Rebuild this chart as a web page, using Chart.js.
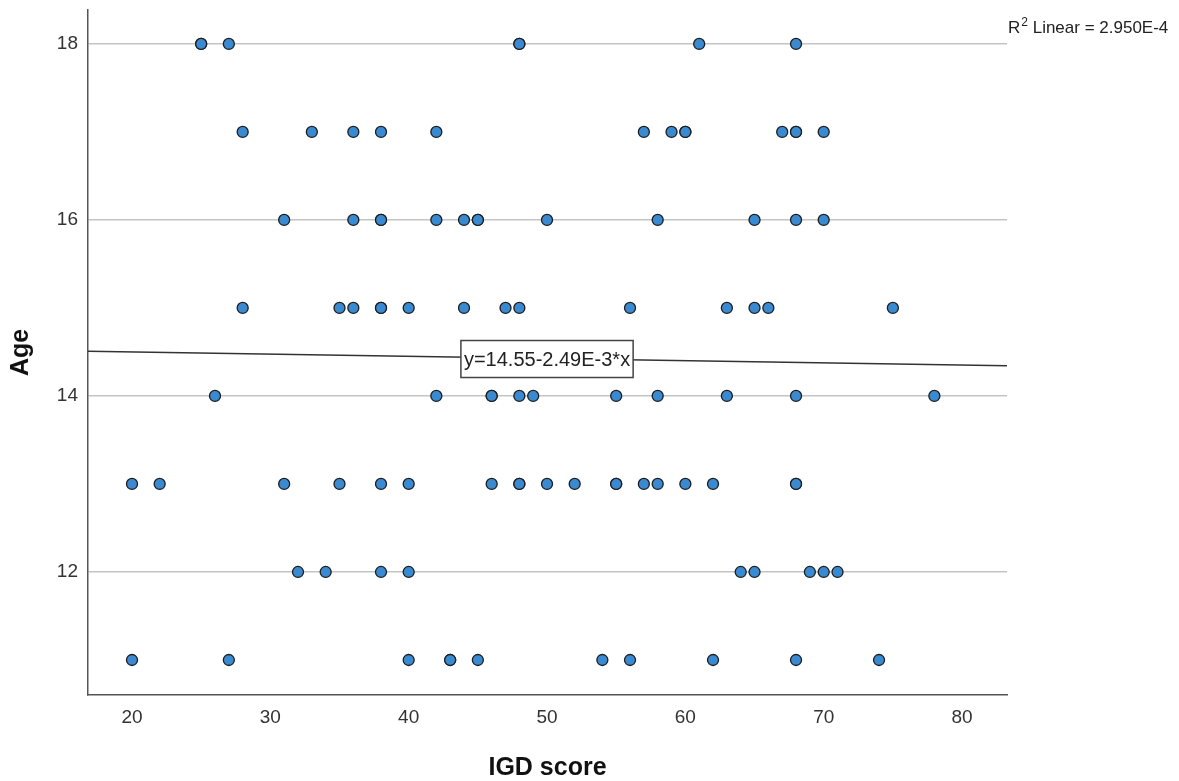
<!DOCTYPE html>
<html>
<head>
<meta charset="utf-8">
<script src="https://cdn.jsdelivr.net/npm/chart.js@4.4.1/dist/chart.umd.min.js"></script>
<style>
  html, body { margin: 0; padding: 0; background: #fff; }
  #wrap { width: 1179px; height: 781px; }
</style>
</head>
<body>
<div id="wrap"><canvas id="scatter" width="1179" height="781"></canvas></div>
<script>
// IGD score (x) vs Age (y) scatter with a linear fit, SPSS-style.
// One array of IGD scores per age; repeated values are repeated cases.
const AGE_LEVELS = [18, 17, 16, 15, 14, 13, 12, 11];
const igdAge18 = [25, 25, 27, 48, 48, 61, 68];
const igdAge17 = [28, 33, 36, 38, 42, 57, 59, 60, 60, 67, 68, 68, 70];
const igdAge16 = [31, 36, 38, 38, 42, 44, 45, 45, 50, 58, 65, 68, 70];
const igdAge15 = [28, 35, 36, 38, 38, 40, 44, 47, 48, 56, 63, 65, 66, 75];
const igdAge14 = [26, 42, 46, 46, 48, 49, 55, 58, 63, 68, 78];
const igdAge13 = [20, 22, 31, 35, 38, 40, 46, 48, 48, 50, 52, 55, 55, 57, 58, 60, 62, 68, 68];
const igdAge12 = [32, 34, 38, 40, 64, 65, 69, 70, 71];
const igdAge11 = [20, 27, 40, 43, 43, 45, 54, 56, 62, 68, 74];

// fit line end points (at the axis limits) and its label
const fitX = [16.82, 83.25];
const fitY = [14.508, 14.343];
const fitLabel = "y=14.55-2.49E-3*x";
const fitLabelAt = { x: 50, y: 14.42 };
const r2Text = { pre: "R", sup: "2", post: " Linear = 2.950E-4" };

const X_TICKS = [20, 30, 40, 50, 60, 70, 80];
const Y_TICKS = [12, 14, 16, 18];

const SANS = '"Liberation Sans", Arial, sans-serif';

const rows = [igdAge18, igdAge17, igdAge16, igdAge15, igdAge14, igdAge13, igdAge12, igdAge11];
const points = [];
rows.forEach((xs, i) => xs.forEach((x) => points.push({ x, y: AGE_LEVELS[i] })));

// white box with the fit equation, plus the R² note in the top right
const notes = {
  id: "notes",
  afterDatasetsDraw(chart) {
    const { ctx, scales } = chart;
    const cx = scales.x.getPixelForValue(fitLabelAt.x);
    const cy = scales.y.getPixelForValue(fitLabelAt.y);
    ctx.save();
    ctx.font = `20px ${SANS}`;
    const w = ctx.measureText(fitLabel).width + 6;
    const h = 37;
    ctx.fillStyle = "#fff";
    ctx.fillRect(cx - w / 2, cy - h / 2, w, h);
    ctx.strokeStyle = "#444";
    ctx.lineWidth = 1.5;
    ctx.strokeRect(cx - w / 2, cy - h / 2, w, h);
    ctx.fillStyle = "#222";
    ctx.textAlign = "center";
    ctx.textBaseline = "middle";
    ctx.fillText(fitLabel, cx, cy + 1);

    let x = chart.chartArea.right + 1;
    const base = 33;
    ctx.textAlign = "left";
    ctx.textBaseline = "alphabetic";
    ctx.font = `17px ${SANS}`;
    ctx.fillText(r2Text.pre, x, base);
    x += ctx.measureText(r2Text.pre).width;
    ctx.font = `12px ${SANS}`;
    ctx.fillText(r2Text.sup, x + 1, base - 7);
    x += ctx.measureText(r2Text.sup).width + 1;
    ctx.font = `17px ${SANS}`;
    ctx.fillText(r2Text.post, x, base);
    ctx.restore();
  },
};

new Chart(document.getElementById("scatter"), {
  type: "scatter",
  data: {
    datasets: [
      {
        type: "line",
        label: "Linear fit",
        data: fitX.map((x, i) => ({ x, y: fitY[i] })),
        borderColor: "#333",
        borderWidth: 1.5,
        pointRadius: 0,
        fill: false,
        order: 2,
      },
      {
        label: "Age",
        data: points,
        backgroundColor: "#3a8ad2",
        borderColor: "#1e1e1e",
        borderWidth: 1.3,
        pointRadius: 5.5,
        order: 1,
      },
    ],
  },
  options: {
    responsive: false,
    animation: false,
    layout: { padding: { top: 10, right: 172, left: 0, bottom: 0 } },
    plugins: { legend: { display: false }, tooltip: { enabled: false } },
    scales: {
      x: {
        type: "linear",
        min: 16.82,
        max: 83.25,
        afterBuildTicks: (s) => { s.ticks = X_TICKS.map((v) => ({ value: v })); },
        afterFit: (s) => { s.height = 86; s.paddingLeft = 0; s.paddingRight = 0; },
        grid: { display: false, drawTicks: false },
        border: { display: true, color: "#555", width: 1.5 },
        ticks: { padding: 11, color: "#333", font: { family: SANS, size: 19 }, maxRotation: 0 },
        title: {
          display: true,
          text: "IGD score",
          color: "#111",
          font: { family: SANS, size: 25, weight: "bold", lineHeight: 1 },
          padding: { top: 0, bottom: 0 },
        },
      },
      y: {
        type: "linear",
        min: 10.602,
        max: 18.386,
        afterBuildTicks: (s) => { s.ticks = Y_TICKS.map((v) => ({ value: v })); },
        afterFit: (s) => { s.width = 88; s.paddingTop = 0; s.paddingBottom = 0; },
        grid: { color: "#c4c4c4", lineWidth: 1.5, drawTicks: false },
        border: { display: true, color: "#555", width: 1.5 },
        ticks: { padding: 10, color: "#333", font: { family: SANS, size: 19 } },
        title: {
          display: true,
          text: "Age",
          color: "#111",
          font: { family: SANS, size: 25, weight: "bold", lineHeight: 1 },
          padding: { top: 9, bottom: 0 },
        },
      },
    },
  },
  plugins: [notes],
});
</script>
</body>
</html>
